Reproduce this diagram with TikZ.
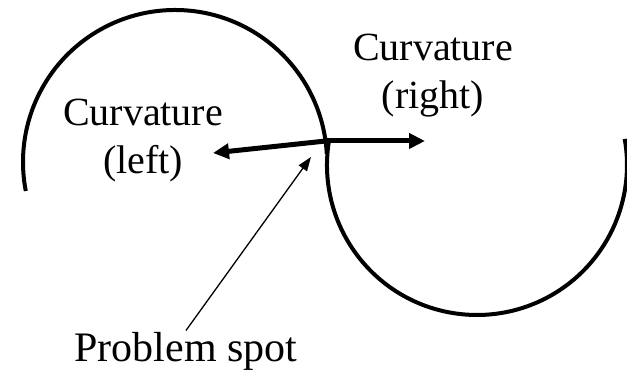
\documentclass[tikz,border=0pt]{standalone}
\usepackage{fontspec}
\setmainfont{Liberation Serif}
\usetikzlibrary{arrows.meta}
\tikzset{
  curve/.style={
    line width=2pt
  },
  bigarrow/.style={
    line width=2.5pt,
    -{Triangle[length=8pt,width=7.5pt]}
  },
  thinarrow/.style={
    line width=0.65pt,
    -{Triangle[length=7pt,width=5pt]}
  },
  sidetext/.style={
    align=center,
    inner sep=0pt,
    font=\fontsize{20}{24}\selectfont
  },
  spottext/.style={
    inner sep=1pt,
    font=\fontsize{21}{25}\selectfont
  }
}
\begin{document}
\begin{tikzpicture}[x=0.5pt,y=0.5pt]
    \useasboundingbox (0,0) rectangle (627,373);
    \coordinate (lc) at (175,211);
    \coordinate (rc) at (477,208);
    \draw[curve] ([shift={(3:152)}]lc) arc[start angle=3,end angle=191,radius=152];
    \draw[curve] ([shift={(170:150)}]rc) arc[start angle=170,end angle=370,radius=150];
    \node[sidetext] (left) at (143,232) {Curvature\\(left)};
    \node[sidetext] (right) at (433,297) {Curvature\\(right)};
    \node[spottext,anchor=base] (problem) at (186,11) {Problem spot};
    \coordinate (spot) at (326,232);
    \coordinate (lefttip) at (213,220);
    \coordinate (righttip) at (425,232);
    \coordinate (spottip) at (311,216);
    \draw[bigarrow] (spot) -- (lefttip);
    \draw[bigarrow] (spot) -- (righttip);
    \draw[thinarrow] (problem.north) -- (spottip);
\end{tikzpicture}
\end{document}
